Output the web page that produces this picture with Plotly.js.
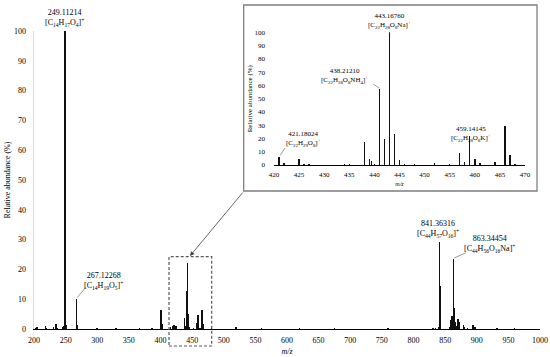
<!DOCTYPE html>
<html>
<head>
<meta charset="utf-8">
<script src="https://cdn.plot.ly/plotly-3.0.1.min.js"></script>
<style>
  html, body { margin: 0; padding: 0; background: #ffffff; }
  #chart { width: 550px; height: 357px; }
</style>
</head>
<body>
<div id="chart"></div>
<script>
// ---- Main spectrum (m/z vs relative abundance, %) ----
const mainMz = [203, 205, 218, 219, 231, 235, 236, 246, 247, 248, 249, 250, 251, 267, 268, 300, 330, 367, 386, 387,
  401, 402, 416, 419, 421, 423, 425, 438, 439, 441, 442, 443, 444, 445, 452, 457, 458, 459, 460, 461, 464, 466, 467, 468,
  481, 519, 560, 620, 675, 760, 831, 835, 840, 841, 842, 843, 857, 859, 860, 861, 862, 863, 864, 865, 866, 867,
  870, 871, 872, 879, 880, 885, 894, 895, 897, 931, 932, 960];
const mainAbund = [0.5, 0.7, 1.0, 0.5, 0.7, 1.6, 0.5, 0.6, 1.0, 0.8, 100, 16.8, 1.2, 10.0, 1.5, 0.2, 0.2, 0.3, 0.3, 0.3,
  6.4, 1.6, 0.7, 1.0, 1.3, 1.0, 1.0, 3.8, 1.0, 12.6, 4.4, 22.0, 5.2, 0.8, 0.4, 2.0, 0.6, 4.8, 1.1, 0.3, 0.4, 6.5, 1.7, 0.3,
  0.3, 0.8, 0.2, 0.2, 0.5, 0.2, 0.4, 0.5, 0.8, 29.3, 14.5, 1.0, 0.6, 3.0, 2.0, 4.5, 3.0, 23.5, 7.0, 3.0, 2.2, 1.0,
  3.3, 1.2, 2.4, 1.3, 0.6, 0.5, 1.3, 0.8, 0.8, 0.5, 0.4, 0.2];

// ---- Inset: zoom on m/z 420-470 ----
const insetMz = [421, 422, 425, 426, 427, 434, 435, 438, 439, 439.4, 440, 441, 442, 443, 444, 445, 446, 448, 452, 455,
  457, 458, 459, 460, 461, 464, 466, 467, 468];
const insetAbund = [6.3, 1.5, 4.5, 0.8, 0.8, 0.6, 0.8, 17.1, 4.5, 3.0, 1.0, 57.3, 19.8, 100, 23.6, 3.8, 1.0, 0.6, 1.5, 1.0,
  9.0, 2.5, 21.6, 4.8, 1.5, 2.0, 29.4, 7.8, 1.0];

// ---- Tick labels ----
const mainXTicks = [200, 250, 300, 350, 400, 450, 500, 550, 600, 650, 700, 750, 800, 850, 900, 950, 1000];
const mainYTicks = [0, 10, 20, 30, 40, 50, 60, 70, 80, 90, 100];
const insetXTicks = [420, 425, 430, 435, 440, 445, 450, 455, 460, 465, 470];
const insetYTicks = [0, 10, 20, 30, 40, 50, 60, 70, 80, 90, 100];

// ---- Peak annotations ----
const mainLabelMz = ['249.11214', '267.12268', '841.36316', '863.34454'];
const mainLabelFormula = [
  '[C<sub>14</sub>H<sub>17</sub>O<sub>4</sub>]<sup>+</sup>',
  '[C<sub>14</sub>H<sub>19</sub>O<sub>5</sub>]<sup>+</sup>',
  '[C<sub>44</sub>H<sub>57</sub>O<sub>16</sub>]<sup>+</sup>',
  '[C<sub>44</sub>H<sub>56</sub>O<sub>16</sub>Na]<sup>+</sup>'
];
const insetLabelMz = ['443.16760', '438.21210', '421.18024', '459.14145'];
const insetLabelFormula = [
  '[C<sub>22</sub>H<sub>28</sub>O<sub>8</sub>Na]<sup>+</sup>',
  '[C<sub>22</sub>H<sub>28</sub>O<sub>8</sub>NH<sub>4</sub>]<sup>+</sup>',
  '[C<sub>22</sub>H<sub>29</sub>O<sub>8</sub>]<sup>+</sup>',
  '[C<sub>22</sub>H<sub>28</sub>O<sub>8</sub>K]<sup>+</sup>'
];

const FONT = 'Liberation Serif, Times New Roman, serif';
const TXT = '#000000';

const traces = [
  { type: 'bar', x: mainMz, y: mainAbund, width: 2.4, marker: { color: '#111111', line: { width: 0 } },
    xaxis: 'x', yaxis: 'y', hoverinfo: 'x+y' },
  { type: 'bar', x: insetMz, y: insetAbund, width: 0.28, marker: { color: '#111111', line: { width: 0 } },
    xaxis: 'x2', yaxis: 'y2', hoverinfo: 'x+y' }
];

// label blocks: [x, y, yanchor, yshift(px)] in axis data coordinates
const mainLabelPos = [[249, 100, 'bottom', 1], [310, 16.0, 'middle', 0], [838.5, 33.4, 'middle', 0], [921, 28.6, 'middle', 0]];
const insetLabelPos = [[443.1, 100, 'bottom', 0], [434, 67.4, 'middle', 0], [425.8, 19.6, 'middle', 0], [459.2, 23.7, 'middle', 0]];

const annotations = [];
mainLabelMz.forEach((t, i) => {
  const p = mainLabelPos[i];
  annotations.push({ xref: 'x', yref: 'y', x: p[0], y: p[1], xanchor: 'center', yanchor: p[2], yshift: p[3],
    text: t + '<br>' + mainLabelFormula[i], showarrow: false, align: 'center',
    font: { family: FONT, size: 8, color: TXT } });
});
insetLabelMz.forEach((t, i) => {
  const p = insetLabelPos[i];
  annotations.push({ xref: 'x2', yref: 'y2', x: p[0], y: p[1], xanchor: 'center', yanchor: p[2], yshift: p[3],
    text: t + '<br>' + insetLabelFormula[i], showarrow: false, align: 'center',
    font: { family: FONT, size: 7, color: TXT } });
});
// arrow from inset to dashed box
annotations.push({ xref: 'paper', yref: 'paper', x: 0.3083, y: 0.245, ax: 54, ay: -65,
  text: '', showarrow: true, arrowhead: 2, arrowsize: 1.1, arrowwidth: 0.8, arrowcolor: '#404040', standoff: 0 });

const shapes = [
  // inset frame
  { type: 'rect', xref: 'paper', yref: 'paper', x0: 0.4144, x1: 0.9941, y0: 0.4631, y1: 1.0872,
    line: { color: '#7f7f7f', width: 1.3 }, fillcolor: '#ffffff', layer: 'below' },
  // dashed zoom box on main spectrum
  { type: 'rect', xref: 'paper', yref: 'paper', x0: 0.2668, x1: 0.3512, y0: -0.057, y1: 0.2426,
    line: { color: '#595959', width: 1.2, dash: '3px,2px' }, fillcolor: 'rgba(0,0,0,0)' },
  // leader lines (main)
  { type: 'line', xref: 'x', yref: 'y', x0: 268.5, y0: 10.6, x1: 282, y1: 14.0, line: { color: '#7f7f7f', width: 0.8 } },
  { type: 'line', xref: 'x', yref: 'y', x0: 864, y0: 23.8, x1: 883, y1: 25.6, line: { color: '#7f7f7f', width: 0.8 } },
  // leader lines (inset)
  { type: 'line', xref: 'x2', yref: 'y2', x0: 439.8, y0: 61.0, x1: 441, y1: 57.8, line: { color: '#7f7f7f', width: 0.8 } },
  { type: 'line', xref: 'x2', yref: 'y2', x0: 422.2, y0: 12.8, x1: 421.2, y1: 7.2, line: { color: '#7f7f7f', width: 0.8 } }
];

const layout = {
  width: 550, height: 357,
  margin: { l: 34, r: 10, t: 31, b: 28 },
  paper_bgcolor: '#ffffff', plot_bgcolor: 'rgba(0,0,0,0)',
  showlegend: false, bargap: 0,
  font: { family: FONT, color: TXT, size: 8 },
  xaxis: {
    domain: [0, 1], range: [200, 1000], tickmode: 'array', tickvals: mainXTicks, ticktext: mainXTicks.map(String),
    showgrid: false, zeroline: false, showline: true, linecolor: '#000000', linewidth: 1.4,
    ticks: '', ticklabelstandoff: 3, tickfont: { family: FONT, size: 8, color: TXT },
    title: { text: '<i>m/z</i>', font: { family: FONT, size: 8, color: TXT }, standoff: 4 },
    anchor: 'y', fixedrange: true
  },
  yaxis: {
    domain: [0, 1], range: [0, 100], tickmode: 'array', tickvals: mainYTicks, ticktext: mainYTicks.map(String),
    showgrid: false, zeroline: false, showline: true, linecolor: '#d9d9d9', linewidth: 1.4,
    ticks: '', ticklabelstandoff: 5, tickfont: { family: FONT, size: 8, color: TXT },
    title: { text: 'Relative abundance (%)', font: { family: FONT, size: 8, color: TXT }, standoff: 2 },
    anchor: 'x', fixedrange: true
  },
  xaxis2: {
    domain: [0.4743, 0.9704], range: [420, 470], tickmode: 'array', tickvals: insetXTicks, ticktext: insetXTicks.map(String),
    showgrid: false, zeroline: false, showline: true, linecolor: '#000000', linewidth: 1,
    ticks: '', ticklabelstandoff: 3, tickfont: { family: FONT, size: 7, color: TXT },
    title: { text: '<i>m/z</i>', font: { family: FONT, size: 6, color: TXT }, standoff: 3 },
    anchor: 'y2', fixedrange: true
  },
  yaxis2: {
    domain: [0.5503, 0.9956], range: [0, 100], tickmode: 'array', tickvals: insetYTicks, ticktext: insetYTicks.map(String),
    showgrid: false, zeroline: false, showline: false,
    ticks: '', ticklabelstandoff: 8, tickfont: { family: FONT, size: 7, color: TXT },
    title: { text: 'Relative abundance (%)', font: { family: FONT, size: 7, color: TXT }, standoff: 1 },
    anchor: 'x2', fixedrange: true
  },
  annotations: annotations,
  shapes: shapes
};

Plotly.newPlot('chart', traces, layout, { displayModeBar: false, staticPlot: true });
</script>
</body>
</html>
